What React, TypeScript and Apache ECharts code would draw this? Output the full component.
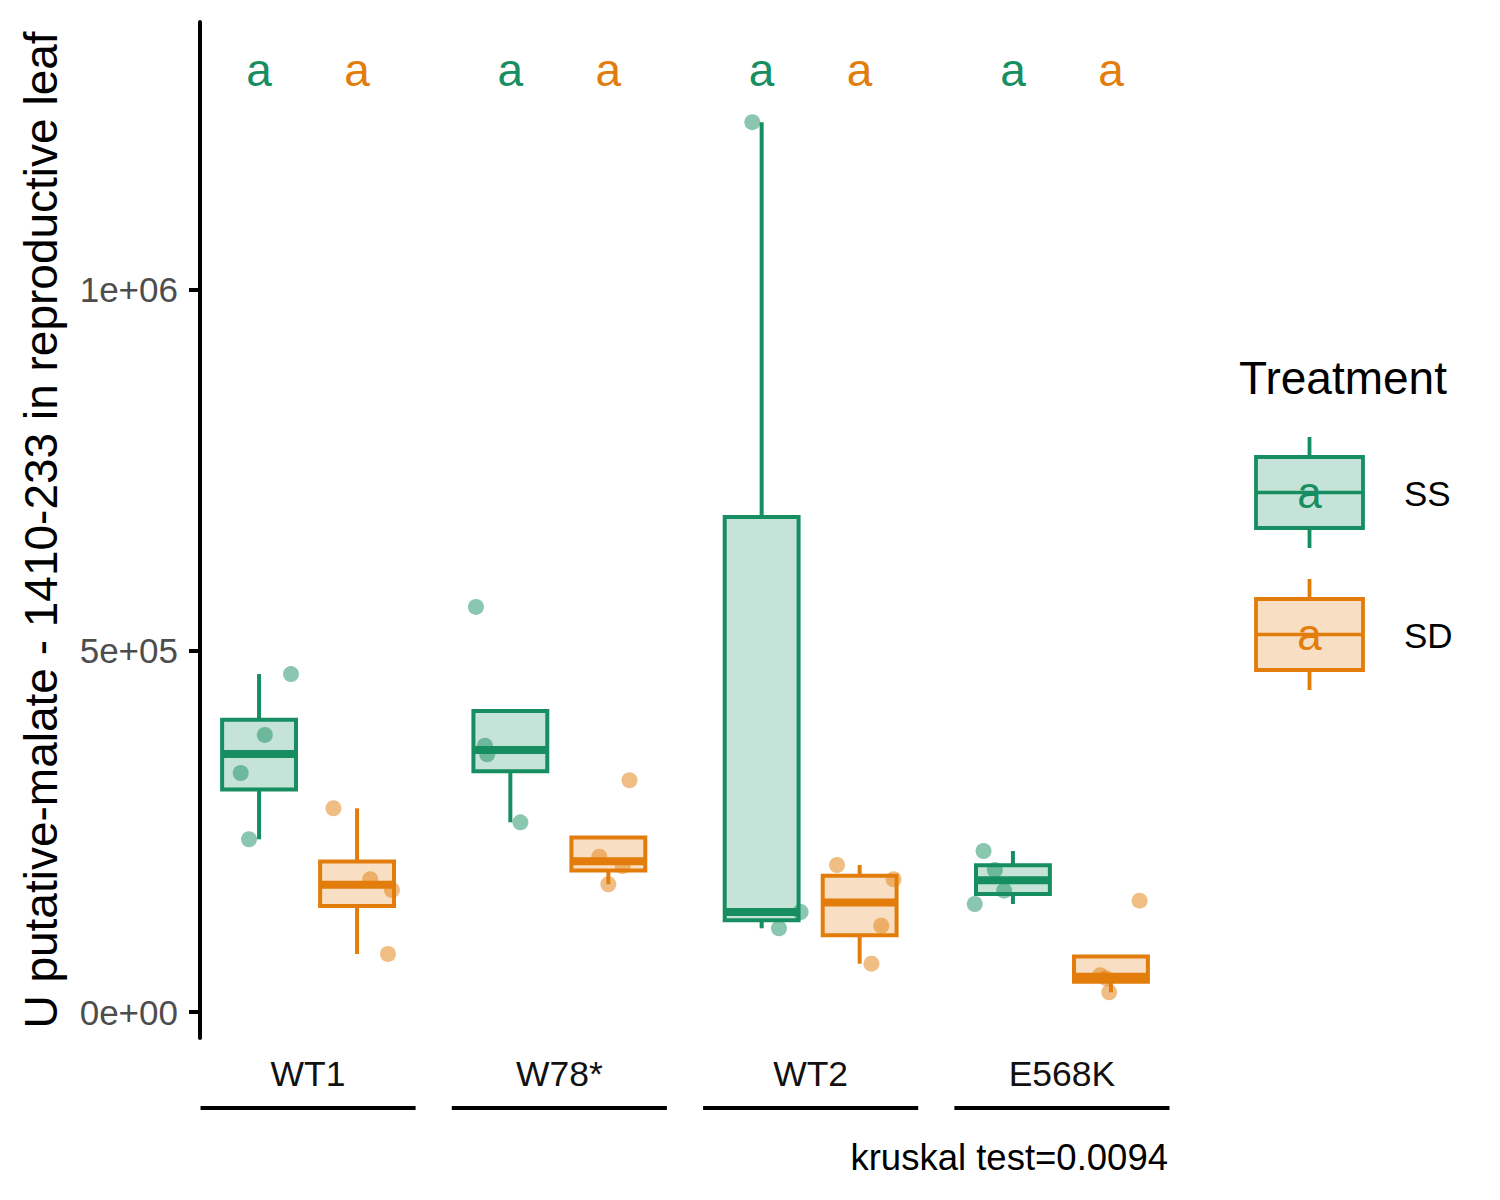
import React, { useEffect, useRef } from "react";
import * as echarts from "echarts";

// ---------------- data ----------------
const categories = ["WT1", "W78*", "WT2", "E568K"];
const treatments = ["SS", "SD"];

// values per category (same order as categories)
const ssValues = [
  [468000, 383700, 331000, 239200],
  [561000, 368800, 356900, 262700],
  [1232300, 115900, 138500],
  [223000, 196700, 168000, 149600],
];
const sdValues = [
  [282100, 183800, 169000, 80300],
  [320900, 215100, 202200, 176900],
  [203600, 183800, 119500, 66900],
  [154200, 50900, 46900, 27300],
];
// horizontal jitter of each point (category units), same order as values
const ssJitter = [
  [0.127, 0.023, -0.073, -0.04],
  [-0.137, -0.101, -0.092, 0.04],
  [-0.037, 0.069, 0.155],
  [-0.117, -0.072, -0.035, -0.152],
];
const sdJitter = [
  [-0.094, 0.052, 0.139, 0.123],
  [0.084, -0.036, 0.057, 0.0],
  [-0.09, 0.135, 0.086, 0.047],
  [0.114, -0.043, -0.02, -0.007],
];
const ssLetters = ["a", "a", "a", "a"];
const sdLetters = ["a", "a", "a", "a"];
const letterLevel = 1305000;

const yTickValues = [0, 500000, 1000000];
const yTickLabels = ["0e+00", "5e+05", "1e+06"];
const yTitle = "U putative-malate - 1410-233 in reproductive leaf";
const legendTitle = "Treatment";
const caption = "kruskal test=0.0094";

// ---------------- style ----------------
const FONT = "'Liberation Sans', Arial, Helvetica, sans-serif";
const COLORS = ["#168E62", "#E27D0B"];
const FILLS = ["rgba(22,142,98,0.25)", "rgba(226,125,11,0.25)"];
const DODGE = 0.195;
const BOX_W = 0.294;
const LW = 4;

function boxStats(vals: number[]) {
  const s = [...vals].sort((a, b) => a - b);
  const q = (p: number) => {
    const h = (s.length - 1) * p;
    const lo = Math.floor(h);
    const hi = Math.min(lo + 1, s.length - 1);
    return s[lo] + (h - lo) * (s[hi] - s[lo]);
  };
  const q1 = q(0.25), med = q(0.5), q3 = q(0.75);
  const iqr = q3 - q1;
  const inl = s.filter((v) => v >= q1 - 1.5 * iqr && v <= q3 + 1.5 * iqr);
  return [Math.min(q1, ...inl), q1, med, q3, Math.max(q3, ...inl)];
}

export default function App() {
  const ref = useRef<HTMLDivElement>(null);
  useEffect(() => {
    if (!ref.current) return;
    const chart = echarts.init(ref.current, null, { renderer: "svg" });
    const groups = [ssValues, sdValues];
    const jitters = [ssJitter, sdJitter];
    const letters = [ssLetters, sdLetters];

    const series: any[] = [];

    // boxes
    groups.forEach((g, t) => {
      const sign = t === 0 ? -1 : 1;
      series.push({
        type: "custom",
        name: treatments[t] + " box",
        xAxisIndex: 0,
        yAxisIndex: 0,
        encode: { x: 0, y: [1, 2, 3, 4, 5] },
        data: g.map((vals, ci) => [ci + 1 + sign * DODGE, ...boxStats(vals)]),
        renderItem: (params: any, api: any) => {
          const x = api.value(0);
          const pLo = api.coord([x, api.value(1)]);
          const pQ1 = api.coord([x, api.value(2)]);
          const pMed = api.coord([x, api.value(3)]);
          const pQ3 = api.coord([x, api.value(4)]);
          const pHi = api.coord([x, api.value(5)]);
          const left = api.coord([x - BOX_W / 2, 0])[0];
          const right = api.coord([x + BOX_W / 2, 0])[0];
          const stroke = COLORS[t];
          return {
            type: "group",
            children: [
              { type: "line", shape: { x1: pLo[0], y1: pLo[1], x2: pQ1[0], y2: pQ1[1] }, style: { stroke, lineWidth: LW } },
              { type: "line", shape: { x1: pQ3[0], y1: pQ3[1], x2: pHi[0], y2: pHi[1] }, style: { stroke, lineWidth: LW } },
              { type: "rect", shape: { x: left, y: pQ3[1], width: right - left, height: pQ1[1] - pQ3[1] }, style: { fill: FILLS[t], stroke, lineWidth: LW } },
              { type: "line", shape: { x1: left, y1: pMed[1], x2: right, y2: pMed[1] }, style: { stroke, lineWidth: 8 } },
            ],
          };
        },
      });
    });

    // points
    groups.forEach((g, t) => {
      const sign = t === 0 ? -1 : 1;
      const data: number[][] = [];
      g.forEach((vals, ci) => vals.forEach((v, k) => data.push([ci + 1 + sign * DODGE + jitters[t][ci][k], v])));
      series.push({
        type: "scatter",
        name: treatments[t],
        xAxisIndex: 0,
        yAxisIndex: 0,
        symbolSize: 16,
        itemStyle: { color: COLORS[t], opacity: 0.5 },
        data,
      });
    });

    // letters
    letters.forEach((ls, t) => {
      const sign = t === 0 ? -1 : 1;
      series.push({
        type: "custom",
        xAxisIndex: 0,
        yAxisIndex: 0,
        encode: { x: 0, y: 1 },
        data: ls.map((l, ci) => [ci + 1 + sign * DODGE, letterLevel, ci]),
        renderItem: (params: any, api: any) => {
          const p = api.coord([api.value(0), api.value(1)]);
          return {
            type: "text",
            x: p[0],
            y: p[1],
            style: { text: ls[api.value(2)], fill: COLORS[t], fontSize: 46, fontFamily: FONT, align: "center", verticalAlign: "middle" },
          };
        },
      });
    });

    // group underlines below axis labels
    series.push({
      type: "custom",
      xAxisIndex: 0,
      yAxisIndex: 0,
      clip: false,
      encode: { x: 0, y: 1 },
      data: categories.map((c, ci) => [ci + 1, 0]),
      renderItem: (params: any, api: any) => {
        const x = api.value(0);
        const l = api.coord([x - 0.428, 0])[0];
        const r = api.coord([x + 0.428, 0])[0];
        const y = params.coordSys.y + params.coordSys.height + 70;
        return { type: "line", shape: { x1: l, y1: y, x2: r, y2: y }, style: { stroke: "#000", lineWidth: 4 } };
      },
    });

    // legend graphics
    const graphic: any[] = [
      { type: "text", x: 1239, y: 378, style: { text: legendTitle, fontSize: 46, fontFamily: FONT, fill: "#000", align: "left", verticalAlign: "middle" } },
      { type: "text", x: 1168, y: 1157, style: { text: caption, fontSize: 36.5, fontFamily: FONT, fill: "#000", align: "right", verticalAlign: "middle" } },
    ];
    treatments.forEach((tr, i) => {
      const top = 457 + i * 142;
      const h = 71;
      const cx = 1309.5;
      graphic.push(
        { type: "line", shape: { x1: cx, y1: top - 20, x2: cx, y2: top }, style: { stroke: COLORS[i], lineWidth: 3.8 } },
        { type: "line", shape: { x1: cx, y1: top + h, x2: cx, y2: top + h + 20 }, style: { stroke: COLORS[i], lineWidth: 3.8 } },
        { type: "rect", shape: { x: 1256, y: top, width: 107, height: h }, style: { fill: FILLS[i], stroke: COLORS[i], lineWidth: 3.8 } },
        { type: "line", shape: { x1: 1256, y1: top + h / 2, x2: 1363, y2: top + h / 2 }, style: { stroke: COLORS[i], lineWidth: 3.6 } },
        { type: "text", x: cx, y: top + h / 2, style: { text: letters[i][0], fontSize: 44, fontFamily: FONT, fill: COLORS[i], align: "center", verticalAlign: "middle" } },
        { type: "text", x: 1404, y: top + h / 2 + 1, style: { text: tr, fontSize: 35, fontFamily: FONT, fill: "#000", align: "left", verticalAlign: "middle" } }
      );
    });

    chart.setOption({
      animation: false,
      backgroundColor: "#fff",
      textStyle: { fontFamily: FONT },
      grid: [
        { left: 200, right: 330, top: 22, bottom: 162 },
        { left: 182.35, right: 312.4, top: 22, bottom: 162 },
      ],
      xAxis: [
        { type: "value", gridIndex: 0, min: 0.57, max: 4.43, show: false },
        {
          type: "category",
          gridIndex: 1,
          data: categories,
          axisLine: { show: false },
          axisTick: { show: false },
          axisLabel: { fontSize: 35.5, color: "#111", margin: 36, verticalAlign: "middle", fontFamily: FONT },
          splitLine: { show: false },
        },
      ],
      yAxis: [
        {
          type: "value",
          gridIndex: 0,
          min: -36000,
          max: 1371000,
          name: yTitle,
          nameLocation: "middle",
          nameGap: 136,
          nameRotate: 90,
          nameTextStyle: { fontSize: 46, color: "#000", fontFamily: FONT },
          axisLine: { show: true, lineStyle: { color: "#000", width: 4 } },
          axisTick: { show: true, length: 11, lineStyle: { color: "#000", width: 4 }, customValues: yTickValues },
          axisLabel: {
            fontSize: 35,
            color: "#4d4d4d",
            margin: 22,
            fontFamily: FONT,
            customValues: yTickValues,
            formatter: (v: number) => {
              const i = yTickValues.indexOf(v);
              return i >= 0 ? yTickLabels[i] : "";
            },
          },
          splitLine: { show: false },
        },
        { type: "value", gridIndex: 1, min: 0, max: 1, show: false },
      ],
      series,
      graphic,
    });
    return () => chart.dispose();
  }, []);
  return <div ref={ref} style={{ position: "absolute", left: 0, top: 0, width: 1500, height: 1200 }} />;
}
